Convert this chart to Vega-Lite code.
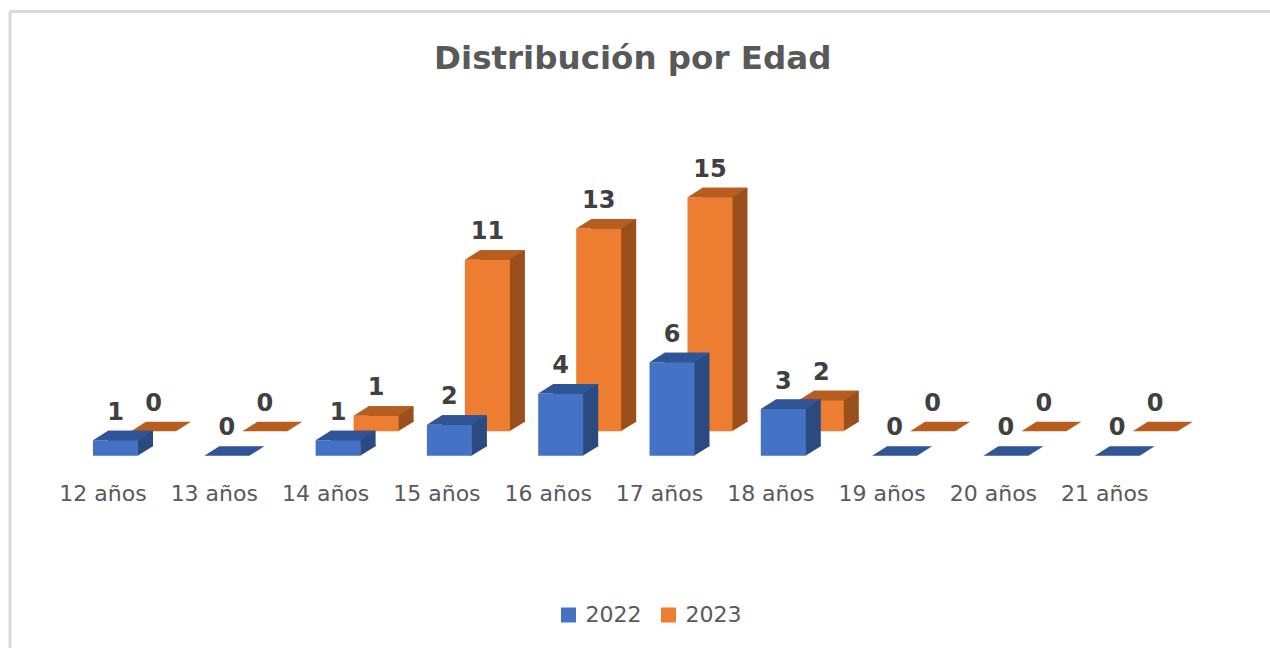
{"$schema":"https://vega.github.io/schema/vega-lite/v6.json","width":1260.5,"height":637,"autosize":{"type":"none"},"padding":{"left":9.5,"top":11,"right":0,"bottom":0},"background":"white","view":{"stroke":null},
"config":{"font":"DejaVu Sans"},
"title":{"text":"Distribución por Edad","font":"DejaVu Sans","fontSize":32.5,"fontWeight":"bold","color":"#595959","anchor":"middle","dx":-7,"dy":64,"offset":0},
"data":{"values":[
{"edad":"12 años","serie":"2022","n":1},{"edad":"13 años","serie":"2022","n":0},{"edad":"14 años","serie":"2022","n":1},{"edad":"15 años","serie":"2022","n":2},{"edad":"16 años","serie":"2022","n":4},{"edad":"17 años","serie":"2022","n":6},{"edad":"18 años","serie":"2022","n":3},{"edad":"19 años","serie":"2022","n":0},{"edad":"20 años","serie":"2022","n":0},{"edad":"21 años","serie":"2022","n":0},
{"edad":"12 años","serie":"2023","n":0},{"edad":"13 años","serie":"2023","n":0},{"edad":"14 años","serie":"2023","n":1},{"edad":"15 años","serie":"2023","n":11},{"edad":"16 años","serie":"2023","n":13},{"edad":"17 años","serie":"2023","n":15},{"edad":"18 años","serie":"2023","n":2},{"edad":"19 años","serie":"2023","n":0},{"edad":"20 años","serie":"2023","n":0},{"edad":"21 años","serie":"2023","n":0}]},
"encoding":{
"x":{"field":"edad","type":"nominal","sort":null,"title":null,"scale":{"paddingInner":0,"paddingOuter":0.6626,"align":0.2566},"axis":{"domain":false,"ticks":false,"labelAngle":0,"labelFont":"DejaVu Sans","labelFontSize":22,"labelColor":"#595959","labelPadding":0,"labelBaseline":"middle","offset":-155,"grid":false}},
"y":{"field":"n","type":"quantitative","stack":null,"title":null,"scale":{"domain":[-12.31,28.5],"nice":false,"zero":false},"axis":{"orient":"left","domain":true,"domainColor":"#d9d9d9","domainWidth":3,"ticks":false,"labels":false,"values":[28.5],"grid":true,"gridColor":"#d9d9d9","gridWidth":3}}
},
"layer":[
{"transform":[{"filter":"datum.serie=='2023'"}],"mark":{"type":"bar","width":45,"xOffset":65.5,"yOffset":-34,"y2Offset":-34,"color":"#9a4f1c"},"encoding":{"y2":{"datum":0}}},
{"transform":[{"filter":"datum.serie=='2023' && datum.n>0"}],"mark":{"type":"point","filled":true,"size":4,"opacity":1,"strokeWidth":0,"xOffset":50.5,"yOffset":-24.5,"color":"#9a4f1c","shape":"M22 0L37.5 -9.5L37.5 -11L22 -11Z"},"encoding":{"y":{"datum":0,"type":"quantitative"}}},
{"transform":[{"filter":"datum.serie=='2023'"}],"mark":{"type":"bar","width":45,"xOffset":50.5,"yOffset":-24.5,"y2Offset":-24.5},"encoding":{"y2":{"datum":0},"color":{"field":"serie","type":"nominal","scale":{"domain":["2022","2023"],"range":["#4472c4","#ed7d31"]},"legend":{"orient":"none","legendX":548,"legendY":593,"direction":"horizontal","title":null,"symbolType":"square","symbolSize":225,"symbolStrokeWidth":0,"labelFont":"DejaVu Sans","labelFontSize":22,"labelColor":"#595959","columnPadding":16,"labelOffset":6}}}},
{"transform":[{"filter":"datum.serie=='2023'"}],"mark":{"type":"point","filled":true,"size":4,"opacity":1,"strokeWidth":0,"xOffset":50.5,"yOffset":-24.5,"color":"#b85d20","shape":"M-22.5 0L22.5 0L37.5 -9.5L-7.5 -9.5Z"}},
{"transform":[{"filter":"datum.serie=='2023'"}],"mark":{"type":"text","font":"DejaVu Sans","fontWeight":"bold","fontSize":24,"color":"#404040","baseline":"middle","xOffset":50.5,"yOffset":-52},"encoding":{"text":{"field":"n","type":"quantitative"}}},
{"transform":[{"filter":"datum.serie=='2022'"}],"mark":{"type":"bar","width":45,"xOffset":27.5,"yOffset":-9.5,"y2Offset":-9.5,"color":"#2a4a80"},"encoding":{"y2":{"datum":0}}},
{"transform":[{"filter":"datum.serie=='2022' && datum.n>0"}],"mark":{"type":"point","filled":true,"size":4,"opacity":1,"strokeWidth":0,"xOffset":12.5,"color":"#2a4a80","shape":"M22 0L37.5 -9.5L37.5 -11L22 -11Z"},"encoding":{"y":{"datum":0,"type":"quantitative"}}},
{"transform":[{"filter":"datum.serie=='2022'"}],"mark":{"type":"bar","width":45,"xOffset":12.5},"encoding":{"color":{"field":"serie","type":"nominal","scale":{"domain":["2022","2023"],"range":["#4472c4","#ed7d31"]}}}},
{"transform":[{"filter":"datum.serie=='2022'"}],"mark":{"type":"point","filled":true,"size":4,"opacity":1,"strokeWidth":0,"xOffset":12.5,"color":"#2f5597","shape":"M-22.5 0L22.5 0L37.5 -9.5L-7.5 -9.5Z"}},
{"transform":[{"filter":"datum.serie=='2022'"}],"mark":{"type":"text","font":"DejaVu Sans","fontWeight":"bold","fontSize":24,"color":"#404040","baseline":"middle","xOffset":12.5,"yOffset":-27.5},"encoding":{"text":{"field":"n","type":"quantitative"}}}
]}
